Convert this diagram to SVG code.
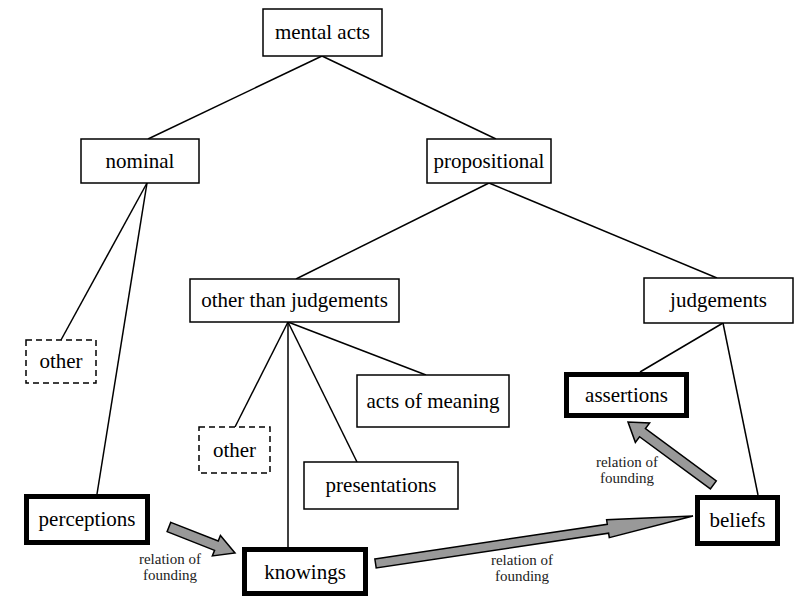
<svg xmlns="http://www.w3.org/2000/svg" width="802" height="597" viewBox="0 0 802 597">
<style>
  .box { fill: #fff; stroke: #000; stroke-width: 1.5; }
  .thick { fill: #fff; stroke: #000; stroke-width: 5; }
  .dash { fill: #fff; stroke: #000; stroke-width: 1.5; stroke-dasharray: 6 4; }
  .lbl { font-family: "Liberation Serif", "Times New Roman", serif; font-size: 21px; text-anchor: middle; fill: #000; }
  .small { font-family: "Liberation Serif", "Times New Roman", serif; font-size: 15px; text-anchor: middle; fill: #222; }
  .conn line { stroke: #000; stroke-width: 1.5; }
  .arrow { fill: #999; stroke: #000; stroke-width: 1.5; stroke-linejoin: miter; }
</style>
<rect width="802" height="597" fill="#fff"/>
<g id="connectors" class="conn">
  <line x1="322" y1="56" x2="148" y2="139"/>
  <line x1="322" y1="56" x2="496" y2="139"/>
  <line x1="147" y1="183" x2="61" y2="340"/>
  <line x1="147" y1="183" x2="97" y2="494"/>
  <line x1="489" y1="183" x2="296" y2="279"/>
  <line x1="489" y1="183" x2="717" y2="278"/>
  <line x1="288" y1="322" x2="235" y2="427"/>
  <line x1="288" y1="322" x2="288" y2="547"/>
  <line x1="288" y1="322" x2="357" y2="462"/>
  <line x1="288" y1="322" x2="426" y2="375"/>
  <line x1="723" y1="323" x2="640" y2="372"/>
  <line x1="723" y1="323" x2="758" y2="495"/>
</g>
<g id="node-mental-acts"><rect class="box" x="263" y="9" width="119" height="47"/><text class="lbl" x="322.5" y="39">mental acts</text></g>
<g id="node-nominal"><rect class="box" x="81" y="139" width="118" height="44"/><text class="lbl" x="140" y="168">nominal</text></g>
<g id="node-propositional"><rect class="box" x="427" y="139" width="124" height="44"/><text class="lbl" x="489" y="168">propositional</text></g>
<g id="node-other-1"><rect class="dash" x="26" y="340" width="70" height="43"/><text class="lbl" x="61" y="368">other</text></g>
<g id="node-other-than-judgements"><rect class="box" x="190" y="279" width="209" height="43"/><text class="lbl" x="294.5" y="307">other than judgements</text></g>
<g id="node-judgements"><rect class="box" x="644" y="278" width="149" height="45"/><text class="lbl" x="718.5" y="307">judgements</text></g>
<g id="node-acts-of-meaning"><rect class="box" x="357" y="375" width="152" height="52"/><text class="lbl" x="433" y="408">acts of meaning</text></g>
<g id="node-other-2"><rect class="dash" x="199" y="427" width="71" height="46"/><text class="lbl" x="234.5" y="457">other</text></g>
<g id="node-presentations"><rect class="box" x="304" y="462" width="154" height="47"/><text class="lbl" x="381" y="492">presentations</text></g>
<g id="node-assertions"><rect class="thick" x="566.5" y="374.5" width="120" height="41"/><text class="lbl" x="626.5" y="402">assertions</text></g>
<g id="node-perceptions"><rect class="thick" x="26.5" y="496.5" width="121" height="46"/><text class="lbl" x="87" y="526">perceptions</text></g>
<g id="node-knowings"><rect class="thick" x="244.5" y="549.5" width="121" height="44"/><text class="lbl" x="305" y="579">knowings</text></g>
<g id="node-beliefs"><rect class="thick" x="697.5" y="497.5" width="80" height="46"/><text class="lbl" x="737.5" y="527">beliefs</text></g>
<g id="founding-arrows">
  <polygon class="arrow" transform="translate(235,553) rotate(21.5)" points="-71,-5 -20,-5 -20,-11 0,0 -20,11 -20,5 -71,5"/>
  <polygon class="arrow" transform="translate(693,516) rotate(-8.5)" points="-321,-4.5 -86,-4.5 -86,-9 0,0 -86,9 -86,4.5 -321,4.5"/>
  <polygon class="arrow" transform="translate(628,422) rotate(216.4)" points="-106,-5 -18,-5 -18,-12 0,0 -18,12 -18,5 -106,5"/>
  <text class="small" x="170" y="564">relation of</text>
  <text class="small" x="170" y="580">founding</text>
  <text class="small" x="522" y="565">relation of</text>
  <text class="small" x="522" y="581">founding</text>
  <text class="small" x="627" y="467">relation of</text>
  <text class="small" x="627" y="483">founding</text>
</g>
</svg>
